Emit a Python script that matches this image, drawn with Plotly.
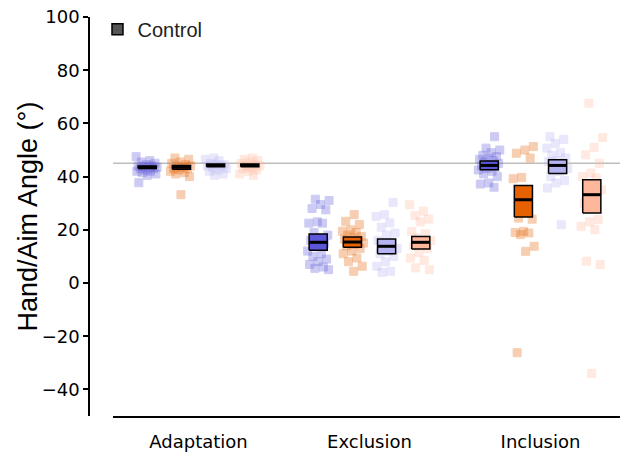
import plotly.graph_objects as go

# ---------------- data ----------------
groups = ["Adaptation", "Exclusion", "Inclusion"]
conditions = ["c1", "c2", "c3", "c4"]
colors = ["#5b57d8", "#e66100", "#b6b3f2", "#ffb79b"]

# individual points per condition, per group
pts_c1 = [
    [47.5, 46, 45.5, 45, 44.5, 44, 44, 43.8, 43.5, 43.5, 43, 43, 42.5, 42, 42, 41.5, 41, 40.5, 37.7],
    [31.5, 31, 29.5, 28, 27.5, 23, 22.5, 22.5, 19, 18, 17, 16, 15, 14, 12, 11, 10, 9, 8, 7, 6, 5.5, 5],
    [55, 50.7, 50, 49, 48, 47.5, 47, 46.5, 46, 45.5, 45, 44.5, 44, 43.5, 43, 42.5, 42, 41, 40, 37.6, 37.2, 36],
]
pts_c2 = [
    [47, 46.5, 45.5, 45, 44.5, 44, 44, 43.5, 43, 43, 42.5, 42, 41.5, 41, 40, 33.2],
    [25.7, 23.2, 22, 20, 19.5, 19, 18, 17.5, 17, 16.5, 16, 15.5, 15, 14.5, 14, 13, 12, 11, 9.4, 8, 6.3, 4.4],
    [51.3, 50, 48.8, 47, 39.7, 39.2, 34.4, 24.4, 24, 19.4, 19, 18.8, 18.2, 13.8, 11.9, -26.2],
]
pts_c3 = [
    [47, 46.5, 46, 45, 44.5, 44.5, 44, 44, 43.5, 43, 42.5, 42, 41, 40.5],
    [30.3, 25.7, 25, 22.6, 21, 18.8, 18, 16, 15, 14, 13, 12, 11, 10, 8, 6.3, 4.4, 4],
    [55, 54, 52.5, 50.7, 49, 48, 47, 46, 45.7, 45, 44, 43, 42, 40, 38.5, 37.6, 35.7, 21.9],
]
pts_c4 = [
    [47, 46.5, 46, 45.5, 45, 44.5, 44, 44, 43.5, 43, 42.5, 42, 41, 40.5],
    [29.4, 27, 25.4, 24, 23, 19.4, 18.5, 17, 16, 15, 14, 13, 11.5, 9.4, 8.5, 5.7, 5],
    [67.6, 54.7, 51, 48.2, 45, 41.3, 40, 39.5, 37, 35, 32, 30, 23.8, 23, 21.3, 20, 8.2, 6.9, -34],
]
points = [pts_c1, pts_c2, pts_c3, pts_c4]

# box (low, high) and centre line per condition, per group
box_lo = [[43.0, 42.8, 43.7, 43.7], [12.3, 13.4, 11.0, 12.8], [42.6, 24.8, 41.2, 26.3]]
box_hi = [[44.0, 44.2, 44.7, 44.7], [18.4, 17.3, 16.5, 17.5], [45.9, 36.7, 46.3, 38.8]]
box_mid = [[43.5, 43.5, 44.2, 44.2], [15.3, 15.4, 13.8, 15.3], [44.2, 31.3, 44.2, 33.2]]

reference_value = 45
y_ticks = [-40, -20, 0, 20, 40, 60, 80, 100]
y_title = "Hand/Aim Angle (°)"

# ---------------- layout constants ----------------
offsets = [-0.3, -0.1, 0.1, 0.3]
half_w = 0.053
jit = 0.065

fig = go.Figure()

fig.add_shape(type="line", xref="x domain", yref="y", x0=0, x1=1,
              y0=reference_value, y1=reference_value,
              line=dict(color="#bdbdbd", width=1.5), layer="below")

for ci in range(4):
    # points
    xs, ys = [], []
    for gi in range(3):
        vals = points[ci][gi]
        for k, v in enumerate(vals):
            f = ((k * 0.6180339887 + 0.37 * gi + 0.21 * ci) % 1.0) - 0.5
            xs.append(gi + offsets[ci] + 2 * jit * f)
            ys.append(v)
    fig.add_trace(go.Scatter(
        x=xs, y=ys, mode="markers", showlegend=False, hoverinfo="skip",
        marker=dict(symbol="square", size=8, color=colors[ci], opacity=0.3,
                    line=dict(color=colors[ci], width=1)),
    ))
    # boxes
    bx, by = [], []
    for gi in range(3):
        xc = gi + offsets[ci]
        lo, hi = box_lo[gi][ci], box_hi[gi][ci]
        bx += [xc - half_w, xc + half_w, xc + half_w, xc - half_w, xc - half_w, None]
        by += [lo, lo, hi, hi, lo, None]
    fig.add_trace(go.Scatter(
        x=bx, y=by, mode="lines", fill="toself", fillcolor=colors[ci],
        line=dict(color="black", width=1.5), showlegend=False, hoverinfo="skip",
    ))
    # centre lines
    mx, my = [], []
    for gi in range(3):
        xc = gi + offsets[ci]
        m = box_mid[gi][ci]
        mx += [xc - half_w, xc + half_w, None]
        my += [m, m, None]
    fig.add_trace(go.Scatter(
        x=mx, y=my, mode="lines", line=dict(color="black", width=3),
        showlegend=False, hoverinfo="skip",
    ))

# legend entry
fig.add_trace(go.Scatter(
    x=[None], y=[None], mode="markers", name="Control",
    marker=dict(symbol="square", size=11, color="#555555",
                line=dict(color="black", width=1.5)),
))

W, H = 620, 452
ml, mr, mt, mb = 89, 0, 17, 29
pw = W - ml - mr

fig.add_annotation(
    text=y_title, xref="paper", yref="paper", x=(27 - ml) / pw, y=0.5,
    xanchor="center", yanchor="middle", textangle=-90, showarrow=False,
    font=dict(family="Liberation Sans", size=27, color="black"),
)

fig.update_layout(
    width=W, height=H,
    margin=dict(l=ml, r=mr, t=mt, b=mb, pad=0),
    plot_bgcolor="white", paper_bgcolor="white",
    showlegend=True,
    legend=dict(x=0.016, y=1.018, xanchor="left", yanchor="top",
                font=dict(family="Liberation Sans", size=20, color="#222"),
                bgcolor="rgba(0,0,0,0)", itemsizing="trace"),
    xaxis=dict(
        domain=[24 / pw, 1], range=[-0.5, 2.465],
        showline=True, linecolor="black", linewidth=1.5,
        showgrid=False, zeroline=False,
        tickmode="array", tickvals=[0, 1, 2], ticktext=groups,
        ticks="", ticklabelstandoff=9,
        tickfont=dict(family="DejaVu Sans", size=18, color="black"),
    ),
    yaxis=dict(
        anchor="free", position=0, range=[-50, 100],
        showline=True, linecolor="black", linewidth=1.5,
        showgrid=False, zeroline=False,
        tickmode="array", tickvals=y_ticks,
        ticktext=[str(v).replace("-", "\u2212") for v in y_ticks],
        ticks="outside", ticklen=5, tickwidth=1.5, tickcolor="black",
        tickfont=dict(family="DejaVu Sans", size=18, color="black"),
        automargin=False,
    ),
)

fig.write_html("out.html")
